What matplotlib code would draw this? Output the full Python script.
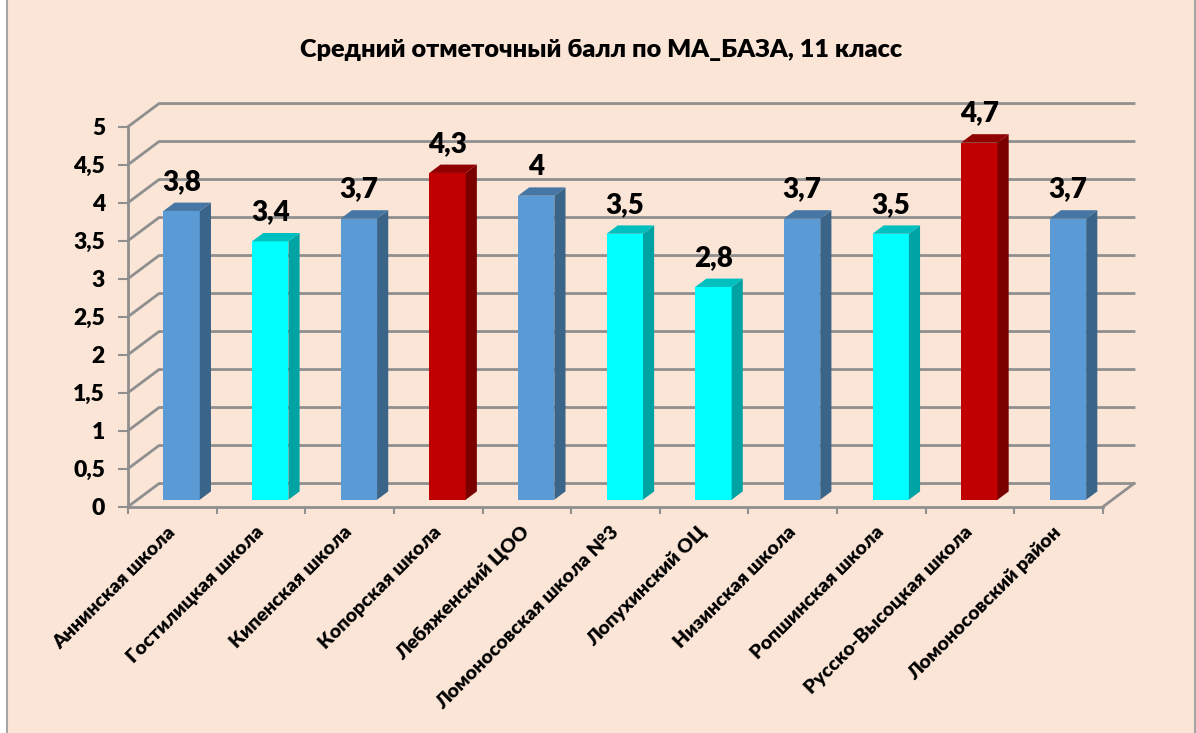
"""
Mean grade per school, drawn as Excel style pseudo-3D columns.
"""
import matplotlib
matplotlib.use("Agg")
import matplotlib.pyplot as plt
from matplotlib.patches import Polygon, Rectangle
from matplotlib.transforms import Affine2D

plt.rcParams["font.family"] = ["Lato", "Open Sans", "DejaVu Sans"]
plt.rcParams["font.weight"] = 800

TITLE = "Средний отметочный балл по МА_БАЗА, 11 класс"
schools = [
    "Аннинская школа", "Гостилицкая школа", "Кипенская школа", "Копорская школа",
    "Лебяженский ЦОО", "Ломоносовская школа №3", "Лопухинский ОЦ", "Низинская школа",
    "Ропшинская школа", "Русско-Высоцкая школа", "Ломоносовский район",
]
values = [3.8, 3.4, 3.7, 4.3, 4.0, 3.5, 2.8, 3.7, 3.5, 4.7, 3.7]
value_labels = ["3,8", "3,4", "3,7", "4,3", "4", "3,5", "2,8", "3,7", "3,5", "4,7", "3,7"]
groups = ["b", "c", "b", "r", "b", "c", "c", "b", "c", "r", "b"]
y_ticks = [0, 0.5, 1, 1.5, 2, 2.5, 3, 3.5, 4, 4.5, 5]
y_tick_labels = ["0", "0,5", "1", "1,5", "2", "2,5", "3", "3,5", "4", "4,5", "5"]

# front, top, side colours for each group
FACES = {
    "b": ("#5b9bd5", "#4676a3", "#3b6489"),
    "c": ("#00ffff", "#00bfbf", "#00a3a3"),
    "r": ("#c00000", "#900000", "#7a0000"),
}
BG = "#fbe5d6"
GRID = "#8f8f8f"
W, H = 1196, 733

# depth of the chart box, in data units
DX, DY = 0.35, 0.305
BAR_W = 0.41
BAR_D0, BAR_D1 = 0.3, 0.66


def main():
    fig = plt.figure(figsize=(W / 100, H / 100), dpi=100, facecolor="white")
    fig.add_artist(Rectangle((6.5 / W, -0.01), (1195 - 6.5) / W, 1.02, transform=fig.transFigure,
                             facecolor=BG, edgecolor="#a6a6a6", linewidth=1.5, zorder=-1))

    ax = fig.add_axes([128 / W, 1 - 506.7 / H, (1103 - 128) / W, 380 / H])
    ax.patch.set_visible(False)
    ax.set_xlim(0, len(schools))
    ax.set_ylim(0, 5)

    # walls: each gridline runs up the side wall and along the back wall
    n = len(schools)
    for v in y_ticks:
        ax.plot([0, DX, n + DX], [v, v + DY, v + DY], color=GRID, lw=2, clip_on=False, zorder=1,
                solid_joinstyle="miter")
    ax.plot([n, n + DX], [0, DY], color=GRID, lw=2, clip_on=False, zorder=1)

    for i, (v, g) in enumerate(zip(values, groups)):
        front, top, side = FACES[g]
        x0 = i + 0.5 - BAR_W / 2 + BAR_D0 * DX
        x1 = x0 + BAR_W
        y0 = BAR_D0 * DY
        d = (BAR_D1 - BAR_D0)
        ax.bar(x0, v, width=BAR_W, bottom=y0, align="edge", color=front, zorder=3, clip_on=False)
        ax.add_patch(Polygon([(x1, y0), (x1 + d * DX, y0 + d * DY), (x1 + d * DX, y0 + d * DY + v), (x1, y0 + v)],
                             facecolor=side, edgecolor="none", zorder=3, clip_on=False))
        ax.add_patch(Polygon([(x0, y0 + v), (x0 + d * DX, y0 + v + d * DY), (x1 + d * DX, y0 + v + d * DY), (x1, y0 + v)],
                             facecolor=top, edgecolor="none", zorder=3, clip_on=False))
        ax.annotate(value_labels[i], (x0 + BAR_W / 2, y0 + v), xytext=(0, 29), textcoords="offset pixels",
                    ha="center", va="center", fontsize=20, color="black", zorder=4, annotation_clip=False)

    for name in ("top", "right"):
        ax.spines[name].set_visible(False)
    for name in ("left", "bottom"):
        ax.spines[name].set_color(GRID)
        ax.spines[name].set_linewidth(2)
        ax.spines[name].set_zorder(2)

    ax.set_yticks(y_ticks, y_tick_labels)
    ax.tick_params(axis="y", length=7, width=1.5, color=GRID, labelsize=16.5, pad=9.5)
    ax.set_xticks(range(n + 1), [""] * (n + 1))
    ax.tick_params(axis="x", which="major", length=5, width=1.5, color=GRID)

    # category names sit on minor ticks, between the tick marks
    ax.set_xticks([i + 0.5 for i in range(n)], schools, minor=True)
    ax.tick_params(axis="x", which="minor", length=0, labelsize=14, pad=12)
    for lab in ax.get_xticklabels(minor=True):
        lab.set_rotation(45)
        lab.set_rotation_mode("anchor")
        lab.set_ha("right")
        lab.set_va("top")
        lab.set_transform(lab.get_transform() + Affine2D().translate(-6, 0))

    fig.text(601 / W, 1 - 50 / H, TITLE, ha="center", va="center", fontsize=18.2, color="black")
    fig.savefig("out.png", dpi=100)


if __name__ == "__main__":
    main()
